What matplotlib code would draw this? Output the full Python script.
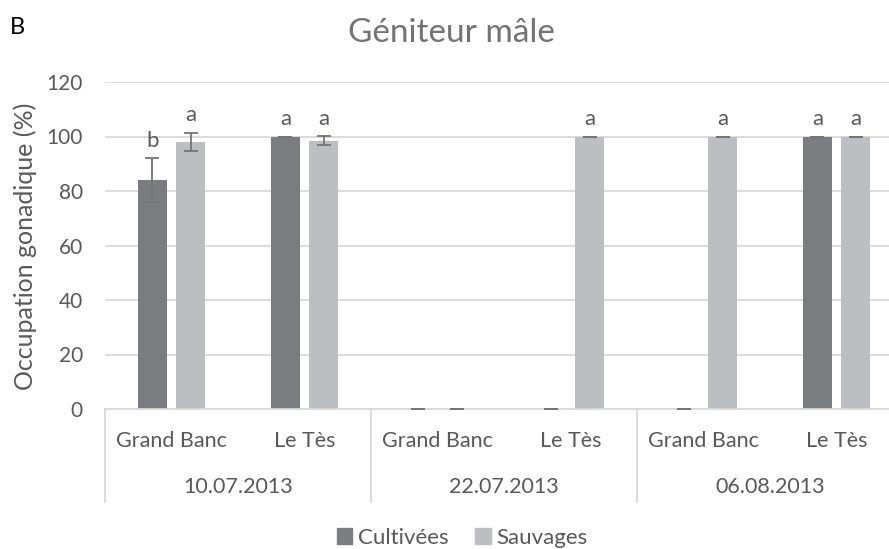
import numpy as np
import matplotlib.pyplot as plt
from matplotlib.patches import Patch

plt.rcParams['font.family'] = ['Lato', 'DejaVu Sans']

# Data
dates = ['10.07.2013', '22.07.2013', '06.08.2013']
sites = ['Grand Banc', 'Le Tès']
cultivees = [84, 100, 0, 0, 0, 100]
cultivees_err = [8, 0, 0, 0, 0, 0]
sauvages = [98, 98.5, 0, 100, 100, 100]
sauvages_err = [3.3, 1.6, 0, 0, 0, 0]
lettres_cult = ['b', 'a', '', '', '', 'a']
lettres_sauv = ['a', 'a', '', 'a', 'a', 'a']

c_cult = '#7b7c80'
c_sauv = '#bdbec2'
c_text = '#595959'
c_grid = '#d9d9d9'

fig = plt.figure(figsize=(8.89, 5.49), dpi=100)
ax = fig.add_axes([105 / 889, 1 - 409 / 549, 798 / 889, 327 / 549])

x = np.arange(len(cultivees))
w = 0.218
off = 0.143

ax.bar(x - off, cultivees, w, color=c_cult, zorder=2)
ax.bar(x + off, sauvages, w, color=c_sauv, zorder=2)
ax.errorbar(x - off, cultivees, yerr=cultivees_err, fmt='none', ecolor='#747474',
            elinewidth=1.3, capsize=5, capthick=1.3, zorder=3)
ax.errorbar(x + off, sauvages, yerr=sauvages_err, fmt='none', ecolor='#747474',
            elinewidth=1.3, capsize=5, capthick=1.3, zorder=3)

# significance letters
for i in range(len(x)):
    if lettres_cult[i]:
        ax.text(x[i] - off, cultivees[i] + cultivees_err[i] + 6.5, lettres_cult[i],
                ha='center', va='center', fontsize=16, color=c_text)
    if lettres_sauv[i]:
        ax.text(x[i] + off, sauvages[i] + sauvages_err[i] + 6.5, lettres_sauv[i],
                ha='center', va='center', fontsize=16, color=c_text)

ax.set_xlim(-0.5, len(x) - 0.5)
ax.set_ylim(0, 120)
ax.set_yticks(range(0, 121, 20))
ax.tick_params(axis='y', length=0, labelsize=15, colors=c_text, pad=16)
ax.set_xticks([])
ax.grid(axis='y', color=c_grid, linewidth=1.3, zorder=0)
for s in ['top', 'right', 'left']:
    ax.spines[s].set_visible(False)
ax.spines['bottom'].set_color(c_grid)
ax.spines['bottom'].set_linewidth(1.3)

fig.text(25 / 889, 1 - 246 / 549, 'Occupation gonadique (%)', rotation=90,
         ha='center', va='center', fontsize=18, color=c_text)

# two-level category axis
tr = ax.get_xaxis_transform()
for i in range(len(x)):
    ax.text(x[i], -0.098, sites[i % 2], transform=tr, ha='center', va='center',
            fontsize=15.5, color=c_text)
for j, d in enumerate(dates):
    ax.text(2 * j + 0.5, -0.239, d, transform=tr, ha='center', va='center',
            fontsize=15.5, color=c_text)
for b in [-0.5, 1.5, 3.5, 5.5]:
    ax.plot([b, b], [0, -0.284], transform=tr, color=c_grid, linewidth=1.3,
            clip_on=False)

fig.text(451 / 889, 1 - 33 / 549, 'Géniteur mâle', ha='center', va='center',
         fontsize=24, color='#737373')
fig.text(10 / 889, 1 - 27 / 549, 'B', ha='left', va='center', fontsize=17,
         color='black')

handles = [Patch(color=c_cult, label='Cultivées'), Patch(color=c_sauv, label='Sauvages')]
fig.legend(handles=handles, loc='center', bbox_to_anchor=(462 / 889, 1 - 538 / 549),
           ncol=2, frameon=False, fontsize=16, labelcolor=c_text,
           handlelength=0.7, handleheight=0.7, handletextpad=0.25, columnspacing=1.2)

fig.savefig('out.png', dpi=100)
